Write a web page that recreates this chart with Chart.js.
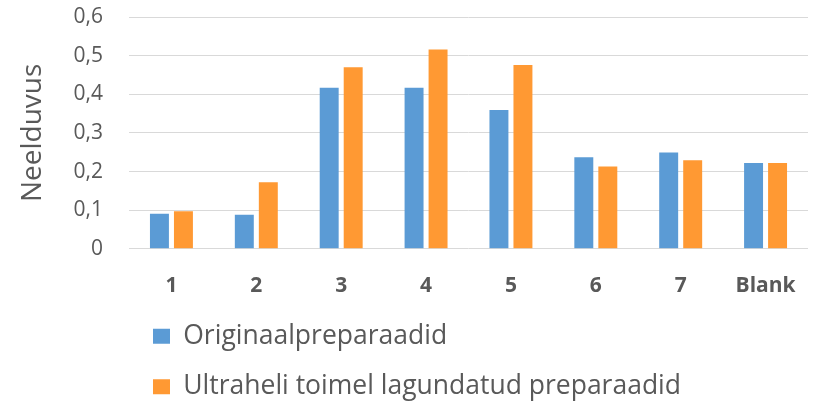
<!DOCTYPE html>
<html>
<head>
<meta charset="utf-8">
<script src="https://cdn.jsdelivr.net/npm/chart.js@4/dist/chart.umd.min.js"></script>
<style>
  html, body { margin: 0; padding: 0; background: #ffffff; }
  #wrap { width: 814px; height: 404px; }
</style>
</head>
<body>
<div id="wrap"><canvas id="c" width="814" height="404"></canvas></div>
<script>
const categories = ['1', '2', '3', '4', '5', '6', '7', 'Blank'];
const originaal = [0.091, 0.088, 0.417, 0.417, 0.359, 0.237, 0.249, 0.222];
const ultraheli = [0.097, 0.172, 0.470, 0.516, 0.476, 0.213, 0.229, 0.222];
const seriesNames = ['Originaalpreparaadid', 'Ultraheli toimel lagundatud preparaadid'];
const yTickLabels = ['0', '0,1', '0,2', '0,3', '0,4', '0,5', '0,6'];
const yTitle = 'Neelduvus';

Chart.defaults.font.family = "'Open Sans', sans-serif";
Chart.defaults.color = '#595959';

new Chart(document.getElementById('c'), {
  type: 'bar',
  data: {
    labels: categories,
    datasets: [
      { label: seriesNames[0], data: originaal, backgroundColor: '#5B9BD5', borderWidth: 0 },
      { label: seriesNames[1], data: ultraheli, backgroundColor: '#FF9933', borderWidth: 0 }
    ]
  },
  options: {
    responsive: false,
    animation: false,
    devicePixelRatio: 1,
    categoryPercentage: 0.5655,
    barPercentage: 0.79,
    layout: { padding: { top: 17, right: 6, bottom: -6, left: 0 } },
    plugins: {
      tooltip: { enabled: false },
      legend: {
        position: 'bottom',
        align: 'start',
        fullSize: false,
        labels: {
          font: { size: 26.5 },
          color: '#595959',
          boxWidth: 17,
          boxHeight: 15,
          padding: 24
        }
      }
    },
    scales: {
      x: {
        grid: { display: true, drawOnChartArea: false, color: 'transparent', tickColor: 'transparent', drawTicks: true, tickLength: 25 },
        border: { display: false },
        ticks: {
          font: { size: 21, weight: 'bold' },
          color: '#595959',
          padding: 0
        }
      },
      y: {
        min: 0,
        max: 0.6,
        afterFit: (scale) => { scale.width = 129; },
        grid: { color: '#D9D9D9', lineWidth: 1, drawTicks: true, tickLength: 26, tickColor: 'transparent' },
        border: { display: false },
        ticks: {
          stepSize: 0.1,
          font: { size: 21 },
          color: '#595959',
          padding: 0,
          callback: (v, i) => yTickLabels[i]
        },
        title: {
          display: true,
          text: yTitle,
          font: { size: 28 },
          color: '#595959',
          padding: { top: 16, bottom: 0 }
        }
      }
    }
  }
});
</script>
</body>
</html>
